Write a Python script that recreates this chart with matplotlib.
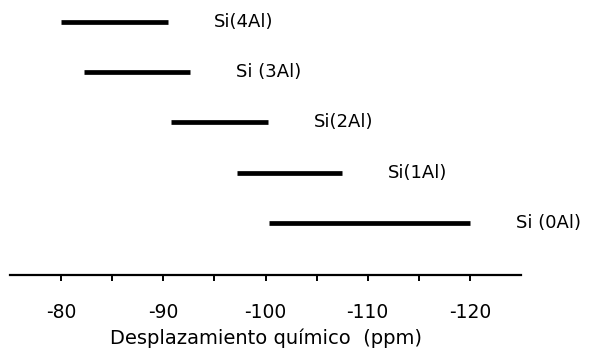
import matplotlib
matplotlib.use("Agg")
import matplotlib.pyplot as plt
from matplotlib.ticker import FixedLocator

# Data: chemical-shift ranges (ppm) for each Si(nAl) environment
labels = ["Si(4Al)", "Si (3Al)", "Si(2Al)", "Si(1Al)", "Si (0Al)"]
range_start = [-80.0, -82.2, -90.8, -97.2, -100.3]
range_end = [-90.5, -92.6, -100.2, -107.5, -120.0]
major_ticks = [-80, -90, -100, -110, -120]
minor_ticks = [-85, -95, -105, -115]
tick_labels = ["-80", "-90", "-100", "-110", "-120"]
xlabel = "Desplazamiento químico  (ppm)"

plt.rcParams['font.family'] = ['DejaVu Sans']

fig = plt.figure(figsize=(5.94, 3.52), dpi=100)
ax = fig.add_axes([10/594, 1 - 275/352, 511/594, 275/352])

n = len(labels)
for i, (lab, s, e) in enumerate(zip(labels, range_start, range_end)):
    y = n - 1 - i
    ax.plot([s, e], [y, y], color="black", lw=3.4, solid_capstyle="butt")
    ax.annotate(lab, xy=(min(s, e), y), xytext=(33, 0), textcoords="offset points",
                ha="left", va="center", fontsize=13, color="black")

ax.set_xlim(-75, -125)
ax.set_ylim(-1.04, 4.44)

for side in ["top", "right", "left"]:
    ax.spines[side].set_visible(False)
ax.spines["bottom"].set_linewidth(1.6)
ax.set_yticks([])
ax.set_xticks(major_ticks)
ax.set_xticklabels(tick_labels)
ax.xaxis.set_minor_locator(FixedLocator(minor_ticks))
ax.tick_params(axis="x", which="both", direction="out", length=4, width=1.4,
               labelsize=13.5, pad=16)
ax.set_xlabel(xlabel, fontsize=14, labelpad=5)

fig.savefig("out.png", dpi=100)
